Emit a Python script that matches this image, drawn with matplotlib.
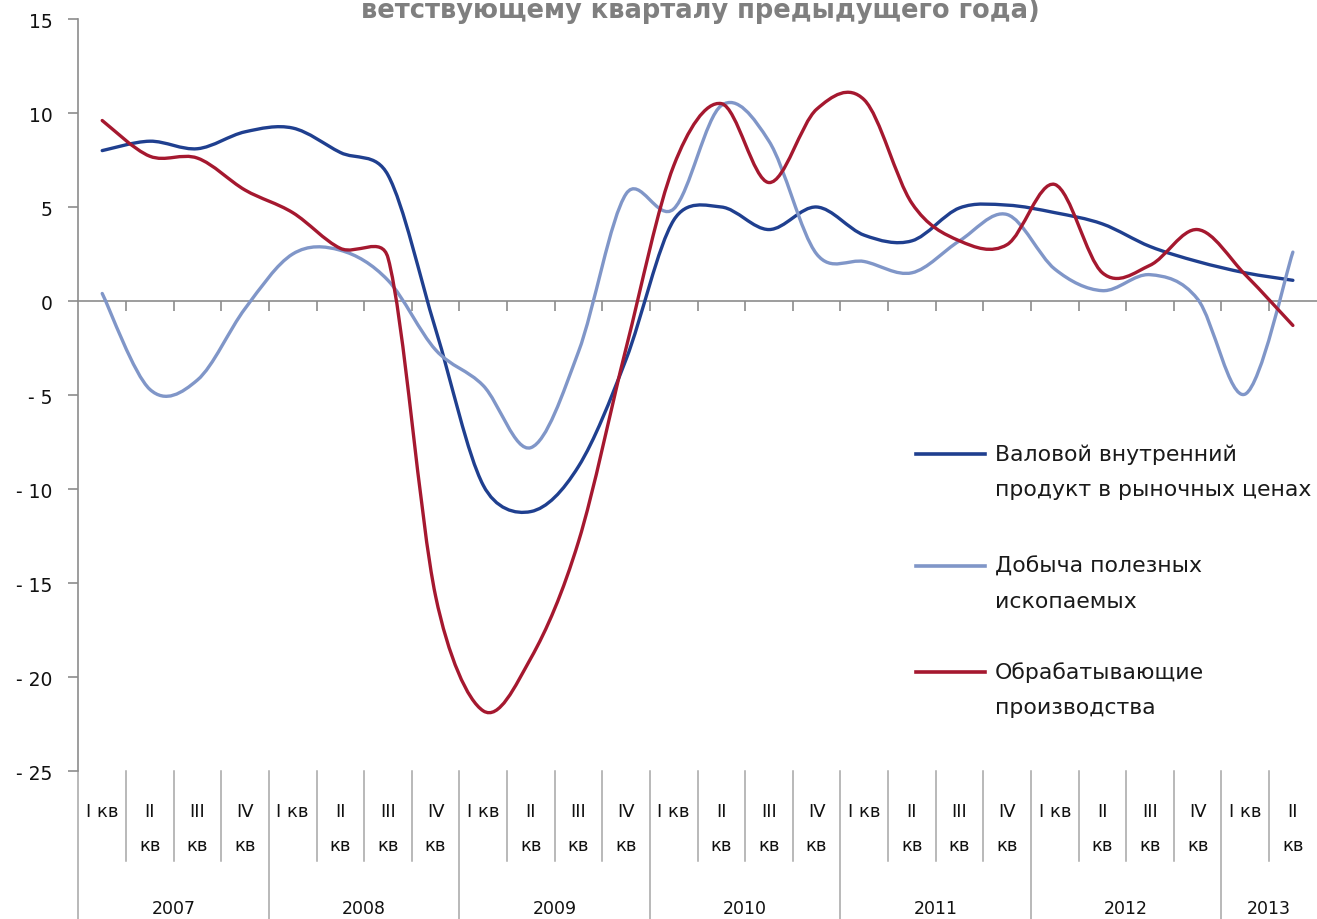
import numpy as np
import matplotlib
matplotlib.use("Agg")
import matplotlib.pyplot as plt
from matplotlib.path import Path
from matplotlib.patches import PathPatch
import matplotlib.transforms as mtransforms

# categories
years = ["2007", "2008", "2009", "2010", "2011", "2012", "2013"]
quarters_in_year = [4, 4, 4, 4, 4, 4, 2]
quarter_top = ["I кв", "II", "III", "IV"]
quarter_bottom = ["", "кв", "кв", "кв"]

# % к соответствующему кварталу предыдущего года
gdp = [8.0, 8.5, 8.1, 9.0, 9.2, 7.9, 6.7, -1.5, -9.8, -11.2, -8.8, -3.1, 4.3,
       5.0, 3.8, 5.0, 3.5, 3.2, 4.95, 5.1, 4.7, 4.1, 2.9, 2.1, 1.5, 1.1]
mining = [0.4, -4.7, -4.2, -0.4, 2.5, 2.7, 1.1, -2.6, -4.5, -7.8, -2.7, 5.7, 4.9,
          10.4, 8.5, 2.5, 2.1, 1.5, 3.2, 4.6, 1.7, 0.55, 1.4, 0.1, -4.95, 2.6]
manuf = [9.6, 7.7, 7.6, 5.9, 4.7, 2.8, 2.3, -15.7, -21.8, -19.0, -12.8, -2.5, 7.2,
         10.5, 6.3, 10.2, 10.7, 5.2, 3.2, 3.0, 6.2, 1.5, 1.9, 3.8, 1.4, -1.3]

series_names = [("Валовой внутренний", "продукт в рыночных ценах"),
                ("Добыча полезных", "ископаемых"),
                ("Обрабатывающие", "производства")]
colors = ["#1f3f8f", "#8096c8", "#a5182f"]

title_text = "ветствующему кварталу предыдущего года)"

W, H = 1317, 920
fig = plt.figure(figsize=(W / 100, H / 100), dpi=100)
ax_l, ax_r, ax_t, ax_b = 78.4, 1316.7, 20, 772
ax = fig.add_axes([ax_l / W, (H - ax_b) / H, (ax_r - ax_l) / W, (ax_b - ax_t) / H])

n = sum(quarters_in_year)
ax.set_xlim(-0.5, n - 0.5)
ax.set_ylim(-25, 15)

grey = "#8c8c8c"
for s in ["top", "right"]:
    ax.spines[s].set_visible(False)
ax.spines["left"].set_color(grey)
ax.spines["left"].set_linewidth(1.2)
ax.spines["bottom"].set_position(("data", 0))
ax.spines["bottom"].set_color(grey)
ax.spines["bottom"].set_linewidth(1.2)

ax.set_xticks(np.arange(0.5, n - 1, 1))
ax.tick_params(axis="x", direction="out", length=7.5, width=1.2, color=grey,
               labelbottom=False)
yt = np.arange(-25, 16, 5)
ax.set_yticks(yt)
ax.set_yticklabels([f"- {abs(v)}" if v < 0 else str(v) for v in yt])
ax.tick_params(axis="y", direction="out", length=7.5, width=1.2, color=grey,
               pad=11, labelsize=13.5, labelcolor="#111111")


def excel_smooth(xs, ys, ratio):
    # bezier like excel "smoothed line"
    pts = np.column_stack([xs, ys]).astype(float)
    m = len(pts)

    def dist(a, b):
        return np.hypot(b[0] - a[0], (b[1] - a[1]) * ratio)

    verts = [pts[0]]
    codes = [Path.MOVETO]
    for i in range(m - 1):
        p0 = pts[max(i - 1, 0)]
        p1 = pts[i]
        p2 = pts[i + 1]
        p3 = pts[min(i + 2, m - 1)]
        d12 = dist(p1, p2)
        d02 = dist(p0, p2)
        d13 = dist(p1, p3)
        f = min(1 / 6, d12 / (2 * d02)) if d02 > 0 else 1 / 6
        g = min(1 / 6, d12 / (2 * d13)) if d13 > 0 else 1 / 6
        verts += [p1 + f * (p2 - p0), p2 - g * (p3 - p1), p2]
        codes += [Path.CURVE4] * 3
    return Path(verts, codes)


# pixel aspect between one category and one unit of y
bb = ax.get_window_extent()
ratio = (bb.height / 40) / (bb.width / n)
x = np.arange(n)
for vals, c in zip([gdp, mining, manuf], colors):
    patch = PathPatch(excel_smooth(x, vals, ratio), fill=False, edgecolor=c,
                      lw=2.4, capstyle="round", joinstyle="round", zorder=3)
    ax.add_patch(patch)

# category axis below the plot
trans = mtransforms.blended_transform_factory(ax.transData, ax.transAxes)
axh = ax_b - ax_t


def ay(py):
    return -(py - ax_b) / axh


sep_color = "#a6a6a6"
i = 0
for yr, cnt in zip(years, quarters_in_year):
    ax.plot([i - 0.5, i - 0.5], [0, ay(H + 5)], transform=trans, color=sep_color,
            lw=1.1, clip_on=False)
    for q in range(cnt):
        ax.text(i + q, ay(812), quarter_top[q], transform=trans, ha="center",
                va="center", fontsize=13, color="#111111")
        if quarter_bottom[q]:
            ax.text(i + q, ay(846), quarter_bottom[q], transform=trans,
                    ha="center", va="center", fontsize=13, color="#111111")
        if q > 0:
            ax.plot([i + q - 0.5, i + q - 0.5], [0, ay(862)], transform=trans,
                    color=sep_color, lw=1.1, clip_on=False)
    ax.text(i + (cnt - 1) / 2, ay(909), yr, transform=trans, ha="center",
            va="center", fontsize=12.5, color="#111111")
    i += cnt

# legend
leg_y = [455, 567, 673]
for (l1, l2), c, py in zip(series_names, colors, leg_y):
    fig.add_artist(plt.Line2D([916 / W, 985 / W], [1 - py / H, 1 - py / H],
                              color=c, lw=2.6))
    fig.text(995 / W, 1 - py / H, l1, ha="left", va="center", fontsize=15.8,
             color="#1a1a1a")
    fig.text(995 / W, 1 - (py + 35) / H, l2, ha="left", va="center",
             fontsize=15.8, color="#1a1a1a")

fig.text(700 / W, 1 - 18 / H, title_text, ha="center", va="baseline",
         fontsize=18.5, fontweight="bold", color="#7f7f7f")

fig.savefig("out.png", dpi=100)
